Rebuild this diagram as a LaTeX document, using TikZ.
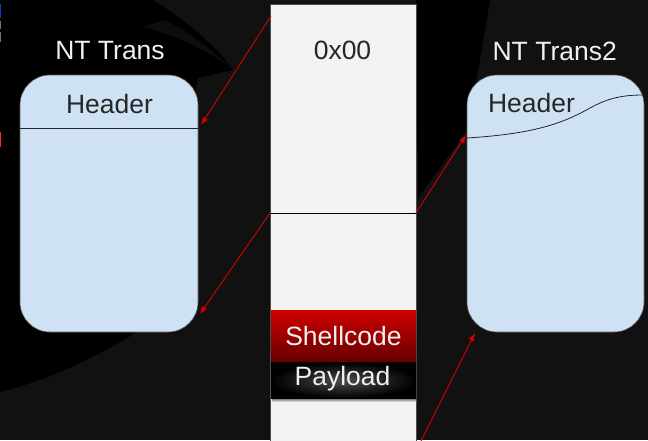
\documentclass[tikz,border=0pt]{standalone}
\usepackage{fontspec}
\setmainfont{Liberation Sans}
\usetikzlibrary{arrows.meta,shadings}
\definecolor{bggrey}{HTML}{111111}
\definecolor{boxblue}{HTML}{CFE2F3}
\definecolor{colgrey}{HTML}{F3F3F3}
\definecolor{arrred}{HTML}{D40000}
\definecolor{shtop}{HTML}{D00000}
\definecolor{shbot}{HTML}{640000}
\tikzset{
  lbl/.style={anchor=base, inner sep=0pt, font=\fontsize{26.5}{31}\selectfont},
  whitelbl/.style={lbl, text=white!94!black},
  darklbl/.style={lbl, text=black!85},
  bluebox/.style={fill=boxblue, draw=black!65, line width=0.6pt, rounded corners=30pt},
  redarrow/.style={draw=arrred, line width=0.9pt, -{Latex[length=8pt,width=6pt]}},
}
\begin{document}
\begin{tikzpicture}[x=1pt,y=-1pt]
\useasboundingbox (0,0) rectangle (648,440);
% background
\fill[bggrey] (0,0) rectangle (648,440);
\fill[black] (0,0) -- (153,0) .. controls (185,20) and (215,45) .. (233,70) -- (198,78) -- (140,330)
  .. controls (100,355) and (50,380) .. (0,392) -- cycle;
\fill[black!95!white] (143,27) .. controls (185,38) and (215,55) .. (233,70) .. controls (210,48) and (190,33) .. (165,20) -- cycle;
\fill[black] (416,0) -- (490,0) .. controls (482,50) and (474,95) .. (466,132) -- (418,198) -- cycle;
% edge artefacts
\fill[blue!70!cyan!80!black] (0,4) rectangle (1.4,18);
\fill[black!55] (0,21) rectangle (1.4,29);
\fill[black!55] (0,32) rectangle (1.4,42);
\fill[red!85!white] (0,132) rectangle (1.4,147);

% left box
\node[bluebox, minimum width=178pt, minimum height=257pt, inner sep=0pt] (lt) at (109,203.5) {};
\coordinate (lhl) at (20,128);
\coordinate (lhr) at (198,128);
\draw[black!85, line width=0.8pt] (lhl) -- (lhr);
\node[whitelbl] (ltt) at (110,59.5) {NT Trans};
\node[darklbl] (lth) at (109.5,113) {Header};

% right box
\node[bluebox, minimum width=177pt, minimum height=257pt, inner sep=0pt] (rt) at (555.5,203.5) {};
\coordinate (rhl) at (467,138);
\coordinate (rhr) at (644,95);
\draw[black!85, line width=0.8pt] (rhl) .. controls (530,134) and (560,125) .. (590,108) .. controls (610,97) and (625,95) .. (rhr);
\node[whitelbl] (rtt) at (554.7,60) {NT Trans2};
\node[darklbl] (rth) at (531.5,112.5) {Header};

% memory column
\node[fill=colgrey, draw=black!70, line width=0.6pt, minimum width=146pt, minimum height=446pt, inner sep=0pt, anchor=north west] (col) at (270,4) {};
\coordinate (cml) at (270,213);
\coordinate (cmr) at (416,213);
\draw[black, line width=0.8pt] (cml) -- (cmr);
\node[darklbl] (zero) at (342.5,59) {0x00};

% payload drop shadow
\shade[top color=black!70, bottom color=colgrey] (272,397.5) rectangle (416,402);
% shellcode / payload
\node[top color=shtop, bottom color=shbot, minimum width=145pt, minimum height=52.5pt, inner sep=0pt, anchor=north west] (sc) at (271,310) {};
\node[whitelbl] (sct) at (343.5,345.5) {Shellcode};
\node[inner color=black!70, outer color=black, shading=radial, minimum width=145pt, minimum height=35.5pt, inner sep=0pt, anchor=north west] (pl) at (271,362.5) {};
\node[whitelbl] (plt) at (342.5,385.5) {Payload};

% arrows
\coordinate (a1s) at (271,16);
\coordinate (a1e) at (201,125);
\coordinate (a2e) at (200,314);
\coordinate (a3e) at (466,135);
\coordinate (a4s) at (421,441);
\coordinate (a4e) at (475,333);
\draw[redarrow] (a1s) -- (a1e);
\draw[redarrow] (cml) -- (a2e);
\draw[redarrow] (cmr) -- (a3e);
\draw[redarrow] (a4s) -- (a4e);
\end{tikzpicture}
\end{document}
